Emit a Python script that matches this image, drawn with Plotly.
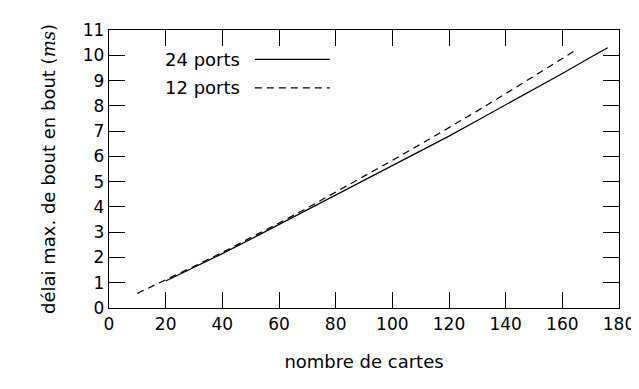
import plotly.graph_objects as go

# délai max. de bout en bout (ms) en fonction du nombre de cartes
cartes_24 = [20, 30, 40, 50, 60, 70, 80, 90, 100, 110, 120, 130, 140, 150, 160, 170, 176]
delai_24 = [1.07, 1.60, 2.15, 2.72, 3.30, 3.88, 4.46, 5.04, 5.62, 6.20, 6.80, 7.42,
            8.03, 8.65, 9.28, 9.92, 10.30]

cartes_12 = [10, 20, 30, 40, 50, 60, 70, 80, 90, 100, 110, 120, 130, 140, 150, 160, 165]
delai_12 = [0.58, 1.10, 1.65, 2.20, 2.77, 3.36, 3.96, 4.58, 5.20, 5.84, 6.48, 7.13,
            7.80, 8.48, 9.17, 9.87, 10.22]

legend_labels = ["24 ports", "12 ports"]

FONT = "DejaVu Sans"

fig = go.Figure()

fig.add_trace(go.Scatter(
    x=cartes_24, y=delai_24, mode="lines", name=legend_labels[0],
    line=dict(color="black", width=1.2),
))
fig.add_trace(go.Scatter(
    x=cartes_12, y=delai_12, mode="lines", name=legend_labels[1],
    line=dict(color="black", width=1.2, dash="7px,5px"),
))

# légende à la gnuplot : texte à gauche, échantillon de ligne à droite
leg_y = [0.894, 0.792]
for label, yy, dash in zip(legend_labels, leg_y, ["solid", "7px,5px"]):
    fig.add_annotation(
        x=0.106, y=yy, xref="paper", yref="paper", text=label,
        showarrow=False, xanchor="left", yanchor="middle",
        font=dict(family=FONT, size=18, color="black"),
    )
    fig.add_shape(
        type="line", xref="paper", yref="paper",
        x0=0.286, x1=0.433, y0=yy, y1=yy,
        line=dict(color="black", width=1.2, dash=dash),
    )

axis_common = dict(
    showline=True, linecolor="black", linewidth=1.3,
    mirror="allticks", ticks="inside", ticklen=16, tickwidth=1,
    tickcolor="black", showgrid=False, zeroline=False,
    tickfont=dict(family=FONT, size=17, color="black"),
)

fig.update_xaxes(
    range=[0, 180], dtick=20, tick0=0,
    title=dict(text="nombre de cartes", standoff=22,
               font=dict(family=FONT, size=18, color="black")),
    **axis_common,
)
fig.update_yaxes(
    range=[0, 11], dtick=1, tick0=0,
    title=dict(
        text="délai max. de bout en bout (<span style=\"font-family:DejaVu Serif\"><i>ms</i></span>)",
        standoff=22,
        font=dict(family=FONT, size=18, color="black"),
    ),
    **axis_common,
)

# la page ajoute 8 px de marge : marges compensées
fig.update_layout(
    width=639, height=389,
    margin=dict(l=101, r=27, t=15, b=89),
    paper_bgcolor="white", plot_bgcolor="white",
    showlegend=False,
)

fig.write_html("out.html")
